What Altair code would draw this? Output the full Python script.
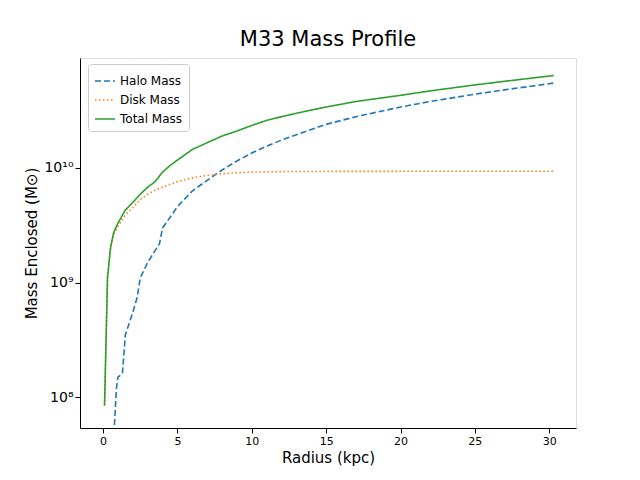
import altair as alt
import pandas as pd

r_total = [0.1,0.3,0.5,0.7,1,1.5,2,2.5,3,3.5,4,4.5,5,6,7,8,9,10,11,12,13,14,15,17,20,22,25,27,30.3]
total = [8.5e7,1.1e9,2.0e9,2.7e9,3.3e9,4.3e9,5.0e9,5.9e9,6.8e9,7.6e9,9.2e9,1.05e10,1.17e10,1.45e10,1.66e10,1.9e10,2.1e10,2.35e10,2.6e10,2.8e10,3.0e10,3.2e10,3.4e10,3.8e10,4.3e10,4.7e10,5.3e10,5.7e10,6.4e10]
r_disk = [0.1,0.3,0.5,0.7,1,1.5,2,2.5,3,3.5,4,5,6,7,8,9,10,12,15,20,25,30.3]
disk = [8.5e7,1.1e9,2.0e9,2.6e9,3.1e9,3.9e9,4.5e9,5.3e9,5.9e9,6.4e9,6.8e9,7.6e9,8.2e9,8.6e9,8.9e9,9.1e9,9.2e9,9.3e9,9.33e9,9.35e9,9.35e9,9.35e9]
r_halo = [0.7,0.9,1.0,1.3,1.5,2.0,2.3,2.5,3.0,3.5,3.8,4.0,4.5,5,6,7,8,9,10,11,12,13,15,17,20,22,25,27,30.3]
halo = [4e7,1.2e8,1.5e8,1.6e8,3.5e8,5.5e8,7.5e8,1.1e9,1.5e9,1.9e9,2.2e9,3.0e9,3.7e9,4.6e9,6.3e9,7.8e9,9.6e9,1.15e10,1.35e10,1.55e10,1.75e10,1.95e10,2.4e10,2.8e10,3.4e10,3.8e10,4.4e10,4.8e10,5.5e10]

df = pd.concat([
    pd.DataFrame({"r": r_halo, "m": halo, "s": "Halo Mass"}),
    pd.DataFrame({"r": r_disk, "m": disk, "s": "Disk Mass"}),
    pd.DataFrame({"r": r_total, "m": total, "s": "Total Mass"}),
])
order = ["Halo Mass", "Disk Mass", "Total Mass"]

chart = alt.Chart(df).mark_line(clip=True, strokeWidth=1.6).encode(
    x=alt.X("r:Q", scale=alt.Scale(domain=[-1.55, 31.8], nice=False, zero=False),
            axis=alt.Axis(title="Radius (kpc)", values=[0,5,10,15,20,25,30], grid=False,
                          titleFontSize=15, titleFontWeight="normal", labelFontSize=11,
                          domainColor="black", tickColor="black", labelColor="black", titleColor="black")),
    y=alt.Y("m:Q", scale=alt.Scale(type="log", domain=[5.4e7, 9.1e10], nice=False),
            axis=alt.Axis(title="Mass Enclosed (M⊙)", values=[1e8,1e9,1e10], grid=False,
                          labelExpr="datum.value==1e8?'10⁸':datum.value==1e9?'10⁹':'10¹⁰'",
                          titleFontSize=15, titleFontWeight="normal", labelFontSize=14,
                          domainColor="black", tickColor="black", labelColor="black", titleColor="black")),
    color=alt.Color("s:N", sort=order, scale=alt.Scale(domain=order, range=["#1f77b4","#ff7f0e","#2ca02c"]),
                    legend=alt.Legend(title=None, orient="none", legendX=8, legendY=6, symbolType="stroke",
                                      symbolSize=400, labelFontSize=12, fillColor="white", strokeColor="#ccc",
                                      padding=6, cornerRadius=3)),
    strokeDash=alt.StrokeDash("s:N", sort=order, scale=alt.Scale(domain=order, range=[[6,3],[1.5,2.5],[1,0]]), legend=None),
).properties(
    width=496, height=370,
    title=alt.TitleParams("M33 Mass Profile", fontSize=21, fontWeight="normal", color="black", offset=8),
    autosize="none", padding={"left": 72, "top": 50, "right": 56, "bottom": 44},
).configure_view(stroke="black").configure(font="DejaVu Sans")

chart.save("out.html", embed_options={"renderer": "svg", "actions": False})
